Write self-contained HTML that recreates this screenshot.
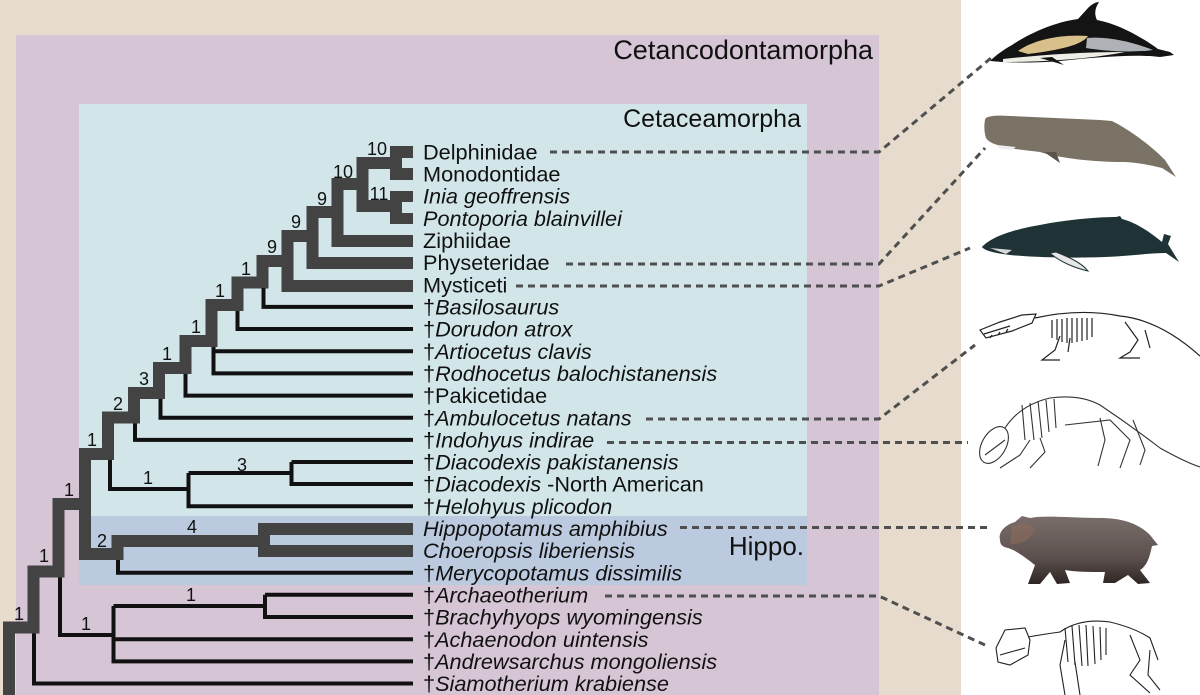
<!DOCTYPE html>
<html><head><meta charset="utf-8">
<style>
html,body{margin:0;padding:0;background:#fff;}
svg{display:block;}
text{font-family:"Liberation Sans","DejaVu Sans",sans-serif;fill:#111;}
.tx{font-size:21.7px;}
.nm{font-size:18px;text-anchor:middle;}
</style></head>
<body>
<svg width="1200" height="695" viewBox="0 0 1200 695" xmlns="http://www.w3.org/2000/svg">
<defs>
<linearGradient id="hg" x1="0" y1="0" x2="0" y2="1">
<stop offset="0" stop-color="#7a6e6b"/><stop offset="0.6" stop-color="#5d514f"/><stop offset="1" stop-color="#2e2624"/>
</linearGradient>
</defs>
<!-- backgrounds -->
<rect x="0" y="0" width="961" height="695" fill="#e6dbcc"/>
<rect x="961" y="0" width="239" height="695" fill="#ffffff"/>
<rect x="16" y="35" width="863" height="660" fill="#d6c5d5"/>
<rect x="79" y="104" width="728" height="412" fill="#d2e6e9"/>
<rect x="79" y="516" width="728" height="69" fill="#bccadf"/>

<text x="873" y="59" style="font-size:27px" text-anchor="end">Cetancodontamorpha</text>
<text x="801" y="127" style="font-size:25px" text-anchor="end">Cetaceamorpha</text>
<text x="804" y="555" style="font-size:26px" text-anchor="end">Hippo.</text>

<!-- thick branches -->
<g fill="#434343">
<rect x="3" y="621.5" width="12" height="73.5"/>
<rect x="3" y="621.5" width="36.5" height="12"/>
<rect x="27.5" y="565.5" width="12" height="68"/>
<rect x="27.5" y="565.5" width="37" height="12"/>
<rect x="52.5" y="498" width="12" height="79.5"/>
<rect x="52.5" y="498" width="38.5" height="12"/>
<rect x="79" y="448" width="12" height="112"/>
<rect x="79" y="448" width="35" height="12"/>
<rect x="102" y="411.5" width="12" height="48.5"/>
<rect x="102" y="411.5" width="38" height="12"/>
<rect x="128" y="387" width="12" height="36.5"/>
<rect x="128" y="387" width="37" height="12"/>
<rect x="153" y="362" width="12" height="37"/>
<rect x="153" y="362" width="38.5" height="12"/>
<rect x="179.5" y="335" width="12" height="39"/>
<rect x="179.5" y="335" width="38" height="12"/>
<rect x="205.5" y="299" width="12" height="48"/>
<rect x="205.5" y="299" width="38" height="12"/>
<rect x="231.5" y="276.5" width="12" height="34.5"/>
<rect x="231.5" y="276.5" width="37" height="12"/>
<rect x="256.5" y="255" width="12" height="33.5"/>
<rect x="256.5" y="255" width="37" height="12"/>
<rect x="281.5" y="230" width="12" height="62"/>
<rect x="281.5" y="280" width="131.5" height="12"/>
<rect x="281.5" y="230" width="37" height="12"/>
<rect x="306.5" y="206" width="12" height="63"/>
<rect x="306.5" y="257" width="106.5" height="12"/>
<rect x="306.5" y="206" width="37" height="12"/>
<rect x="331.5" y="178" width="12" height="69"/>
<rect x="331.5" y="235" width="81.5" height="12"/>
<rect x="331.5" y="178" width="37" height="12"/>
<rect x="356.5" y="157" width="12" height="55"/>
<rect x="356.5" y="157" width="45.5" height="12"/>
<rect x="356.5" y="200" width="45.5" height="12"/>
<rect x="390" y="146" width="12" height="34"/>
<rect x="390" y="146" width="23" height="12"/>
<rect x="390" y="168" width="23" height="12"/>
<rect x="390" y="191" width="12" height="33"/>
<rect x="390" y="191" width="23" height="11"/>
<rect x="390" y="213" width="23" height="11"/>
<!-- hippo clade -->
<rect x="79" y="548" width="44" height="12"/>
<rect x="111.5" y="535" width="12" height="25"/>
<rect x="111.5" y="535" width="158.5" height="12"/>
<rect x="258" y="523" width="12" height="34"/>
<rect x="258" y="523" width="155" height="12"/>
<rect x="258" y="545" width="155" height="12"/>
</g>

<!-- thin branches -->
<g fill="none" stroke="#111" stroke-width="4" stroke-linejoin="miter" stroke-linecap="butt">
<path d="M263.5,288 V306.9 H413"/>
<path d="M237.5,311 V329 H413"/>
<path d="M213.5,347 V373.4 H413"/>
<path d="M213.5,351.2 H413"/>
<path d="M185.5,374 V395.6 H413"/>
<path d="M160.5,399 V417.8 H413"/>
<path d="M135,423.5 V439.9 H413"/>
<path d="M110,460 V489 H188.5"/>
<path d="M188.5,473 V506.2 H413"/>
<path d="M188.5,473 H291.5"/>
<path d="M291.5,462 V484 H413"/>
<path d="M291.5,462 H413"/>
<path d="M118,560 V572.7 H413"/>
<path d="M60,577.5 V635 H113.5"/>
<path d="M113.5,606 V661.4 H413"/>
<path d="M113.5,639.2 H413"/>
<path d="M113.5,606 H265"/>
<path d="M265,594.8 V617 H413"/>
<path d="M265,594.8 H413"/>
<path d="M34,633.5 V683.5 H413"/>
</g>

<!-- node support numbers -->
<g class="nm">
<text class="nm" x="377" y="155">10</text>
<text class="nm" x="379" y="200">11</text>
<text class="nm" x="343" y="178">10</text>
<text class="nm" x="322" y="205">9</text>
<text class="nm" x="296" y="228">9</text>
<text class="nm" x="272" y="253">9</text>
<text class="nm" x="246" y="275">1</text>
<text class="nm" x="220" y="297">1</text>
<text class="nm" x="196" y="333">1</text>
<text class="nm" x="167" y="360">1</text>
<text class="nm" x="144" y="385">3</text>
<text class="nm" x="118" y="410">2</text>
<text class="nm" x="92" y="446">1</text>
<text class="nm" x="148" y="484">1</text>
<text class="nm" x="242" y="471">3</text>
<text class="nm" x="69" y="496">1</text>
<text class="nm" x="102" y="547">2</text>
<text class="nm" x="192" y="533">4</text>
<text class="nm" x="44" y="562">1</text>
<text class="nm" x="86" y="630">1</text>
<text class="nm" x="191" y="601">1</text>
<text class="nm" x="19" y="620">1</text>
</g>

<!-- taxa -->
<g class="tx">
<text class="tx" x="423" y="159.4">Delphinidae</text>
<text class="tx" x="423" y="181.5">Monodontidae</text>
<text class="tx" x="423" y="203.7" font-style="italic">Inia geoffrensis</text>
<text class="tx" x="423" y="225.8" font-style="italic">Pontoporia blainvillei</text>
<text class="tx" x="423" y="248">Ziphiidae</text>
<text class="tx" x="423" y="270.1">Physeteridae</text>
<text class="tx" x="423" y="292.3">Mysticeti</text>
<text class="tx" x="423" y="314.5">†<tspan font-style="italic">Basilosaurus</tspan></text>
<text class="tx" x="423" y="336.6">†<tspan font-style="italic">Dorudon atrox</tspan></text>
<text class="tx" x="423" y="358.8">†<tspan font-style="italic">Artiocetus clavis</tspan></text>
<text class="tx" x="423" y="380.9">†<tspan font-style="italic">Rodhocetus balochistanensis</tspan></text>
<text class="tx" x="423" y="403.1">†Pakicetidae</text>
<text class="tx" x="423" y="425.3">†<tspan font-style="italic">Ambulocetus natans</tspan></text>
<text class="tx" x="423" y="447.4">†<tspan font-style="italic">Indohyus indirae</tspan></text>
<text class="tx" x="423" y="469.6">†<tspan font-style="italic">Diacodexis pakistanensis</tspan></text>
<text class="tx" x="423" y="491.7">†<tspan font-style="italic">Diacodexis</tspan> -North American</text>
<text class="tx" x="423" y="513.9">†<tspan font-style="italic">Helohyus plicodon</tspan></text>
<text class="tx" x="423" y="536.1" font-style="italic">Hippopotamus amphibius</text>
<text class="tx" x="423" y="558.2" font-style="italic">Choeropsis liberiensis</text>
<text class="tx" x="423" y="580.4">†<tspan font-style="italic">Merycopotamus dissimilis</tspan></text>
<text class="tx" x="423" y="602.5">†<tspan font-style="italic">Archaeotherium</tspan></text>
<text class="tx" x="423" y="624.7">†<tspan font-style="italic">Brachyhyops wyomingensis</tspan></text>
<text class="tx" x="423" y="646.9">†<tspan font-style="italic">Achaenodon uintensis</tspan></text>
<text class="tx" x="423" y="669">†<tspan font-style="italic">Andrewsarchus mongoliensis</tspan></text>
<text class="tx" x="423" y="691.2">†<tspan font-style="italic">Siamotherium krabiense</tspan></text>
</g>

<!-- dashed connectors -->
<g fill="none" stroke="#4f4f4f" stroke-width="3" stroke-dasharray="7 5">
<path d="M550,152 H879 L991,58"/>
<path d="M566,264 H879 L985,148"/>
<path d="M516,286 H879 L970,248"/>
<path d="M646,419 H879 L975,345"/>
<path d="M607,442.5 H968"/>
<path d="M680,527.5 H992"/>
<path d="M605,596 H879 L985,645"/>
</g>

<!-- dolphin -->
<g>
<path d="M990,61 C995,56 1003,50 1012,45 C1030,33 1055,22 1078,19 L1088,8 C1092,4 1096,2 1099,2 C1095,8 1094,14 1097,20 C1118,24 1140,36 1158,49 L1170,52 L1174,55 L1160,57 L1150,56 C1120,55 1090,58 1060,61 C1040,63 1010,63 990,61 Z" fill="#141414"/>
<path d="M1018,51 C1033,40 1060,34 1088,36 C1082,45 1060,50 1028,54 Z" fill="#d8c08a"/>
<path d="M1087,38 C1110,36 1135,43 1153,50 C1130,53 1105,51 1086,48 Z" fill="#aeb2b6"/>
<path d="M1003,59 C1040,55 1080,52 1125,52 C1095,58 1050,62 1003,62 Z" fill="#eeede6"/>
<path d="M1040,58 L1064,65 L1052,57 Z" fill="#141414"/>
</g>
<!-- sperm whale -->
<g>
<path d="M985,120 C985,116 995,115 1010,116 L1100,120 L1112,121 C1130,130 1150,145 1165,160 L1176,177 L1162,168 C1150,165 1140,163 1125,162 C1090,162 1060,158 1040,152 L1015,149 C1000,146 990,144 986,138 C984,132 984,125 985,120 Z" fill="#7b7266"/>
<path d="M997,145 L1016,147 L1012,150 L1000,149 Z" fill="#eeeeee"/>
<path d="M1044,152 L1060,163 L1056,152 Z" fill="#5c544b"/>
</g>
<!-- humpback -->
<g>
<path d="M982,247 C990,238 1010,230 1040,225 C1070,219 1100,217 1116,217 L1120,216 L1122,219 C1135,222 1150,232 1162,242 L1164,234 L1171,236 L1168,244 L1179,262 L1166,253 C1150,253 1130,256 1105,257 C1080,258 1040,258 1010,255 C995,253 985,251 982,247 Z" fill="#1f3336"/>
<path d="M1050,253 C1060,262 1075,268 1088,271 C1081,262 1066,256 1056,252 Z" fill="#e6e6e6" stroke="#1f3336" stroke-width="1"/>
<path d="M990,248 L1012,250 L1006,254 Z" fill="#d8d8d8"/>
</g>
<!-- Ambulocetus skeleton -->
<g fill="none" stroke="#222" stroke-width="1.2">
<path d="M980,330 L1000,322 L1022,315 L1036,314 L1032,323 L1012,331 L986,338 Z"/>
<path d="M984,334 L1010,326 M990,338 l2,-3 M998,335 l2,-3 M1006,332 l2,-3"/>
<path d="M1035,318 Q1080,308 1120,316 Q1160,320 1200,356"/>
<path d="M1052,320 L1052,338 M1057,319 L1057,340 M1062,319 L1062,342 M1067,318 L1067,343 M1072,318 L1072,343 M1077,318 L1077,342 M1082,318 L1082,341 M1087,318 L1087,340 M1092,318 L1092,337"/>
<path d="M1060,336 L1055,350 L1042,360 L1060,360 M1070,338 L1068,352"/>
<path d="M1125,322 L1138,340 L1130,352 L1120,358 L1140,358 M1145,330 L1150,348"/>
</g>
<!-- Indohyus skeleton -->
<g fill="none" stroke="#333" stroke-width="1.1">
<ellipse cx="994" cy="445" rx="12" ry="20" transform="rotate(30 994 445)"/>
<path d="M985,455 L1005,440"/>
<path d="M1005,428 Q1020,405 1050,398 Q1080,394 1100,405 Q1130,425 1160,448 Q1185,462 1200,467"/>
<path d="M1022,405 L1025,440 M1030,403 L1034,440 M1038,401 L1042,438 M1046,400 L1049,432 M1054,399 L1056,428"/>
<path d="M1030,440 L1020,455 L1000,468 M1040,438 L1045,452 L1030,468"/>
<path d="M1065,425 L1110,420 L1130,440 L1120,468 M1100,418 L1105,440 L1098,466 M1133,420 L1145,450 L1140,465"/>
</g>
<!-- hippo -->
<path d="M1000,540 C998,532 1005,525 1015,522 L1022,516 L1030,518 C1045,515 1070,518 1100,518 C1125,518 1140,525 1150,535 L1158,545 L1152,546 C1150,555 1148,565 1140,570 L1150,583 L1138,584 L1128,575 L1115,583 L1103,583 L1105,572 C1090,572 1075,572 1065,570 L1070,583 L1057,584 L1050,572 L1040,584 L1028,584 L1035,565 C1025,557 1015,550 1008,548 C1002,547 1000,544 1000,540 Z" fill="url(#hg)"/>
<path d="M1012,526 C1020,522 1030,522 1035,530 C1030,540 1020,545 1010,544 Z" fill="#8c6b5e" opacity="0.6"/>
<!-- Archaeotherium skeleton -->
<g fill="none" stroke="#222" stroke-width="1.1">
<path d="M996,648 L1005,630 L1025,628 L1030,640 L1028,655 L1010,665 L998,662 Z"/>
<path d="M1000,655 L1025,648"/>
<path d="M1028,637 Q1045,634 1060,632 Q1080,618 1110,622 Q1135,628 1150,638 L1158,660"/>
<path d="M1065,628 L1068,662 M1072,626 L1075,665 M1079,625 L1082,666 M1086,625 L1088,666 M1093,626 L1095,664 M1100,627 L1101,660 M1106,628 L1106,655"/>
<path d="M1065,640 L1060,665 L1065,695 M1075,662 L1080,695"/>
<path d="M1130,635 L1140,660 L1130,675 L1150,693 M1150,650 L1148,675 L1160,690"/>
</g>
</svg>
</body></html>
